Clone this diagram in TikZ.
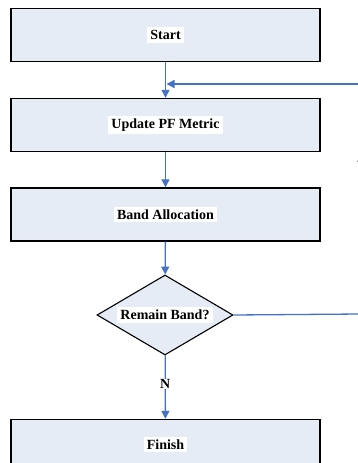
\documentclass[tikz,border=0pt]{standalone}
\usepackage{fontspec}
\setmainfont{Liberation Serif}
\usetikzlibrary{arrows.meta,shapes.geometric}
\definecolor{boxfill}{HTML}{E6ECF6}
\definecolor{flowblue}{HTML}{4472C4}
\begin{document}
\begin{tikzpicture}[x=1pt,y=-1pt,
  font=\fontsize{14}{16}\selectfont\bfseries,
  stepbox/.style={draw=black,line width=1.4pt,fill=boxfill,minimum width=309pt,minimum height=53pt,inner sep=0pt},
  decision/.style={diamond,draw=black,line width=1.1pt,fill=boxfill,minimum width=136pt,minimum height=80pt,inner sep=0pt,aspect=1.7},
  flow/.style={draw=flowblue,line width=1.3pt,-{Triangle[length=8pt,width=8pt]}},
  flowline/.style={draw=flowblue,line width=1.3pt},
  lbl/.style={fill=white,inner sep=0.5pt}]
\useasboundingbox (0,0) rectangle (357,463);
\node[stepbox] (start) at (165.5,35) {\colorbox{white}{Start}};
\node[stepbox] (update) at (165.5,125) {\colorbox{white}{Update PF Metric}};
\node[stepbox] (band) at (165.5,214.5) {\colorbox{white}{Band Allocation}};
\node[decision] (remain) at (165,315) {\colorbox{white}{Remain Band?}};
\node[stepbox] (finish) at (165.5,446) {\raisebox{6pt}{\colorbox{white}{Finish}}};
\coordinate (retin) at (360,84);
\coordinate (yout) at (360,314);
\coordinate (merge) at (165.5,84);
\draw[flow] (start) -- (update);
\draw[flow] (retin) -- ([xshift=1pt]merge);
\draw[flow] (update) -- (band);
\draw[flow] (band) -- (remain);
\draw[flow] (remain) -- node[lbl,pos=0.45]{N} (finish);
\draw[flowline] (remain.east) -- (yout);
\node (ylbl) at (362,166) {Y};
\end{tikzpicture}
\end{document}
